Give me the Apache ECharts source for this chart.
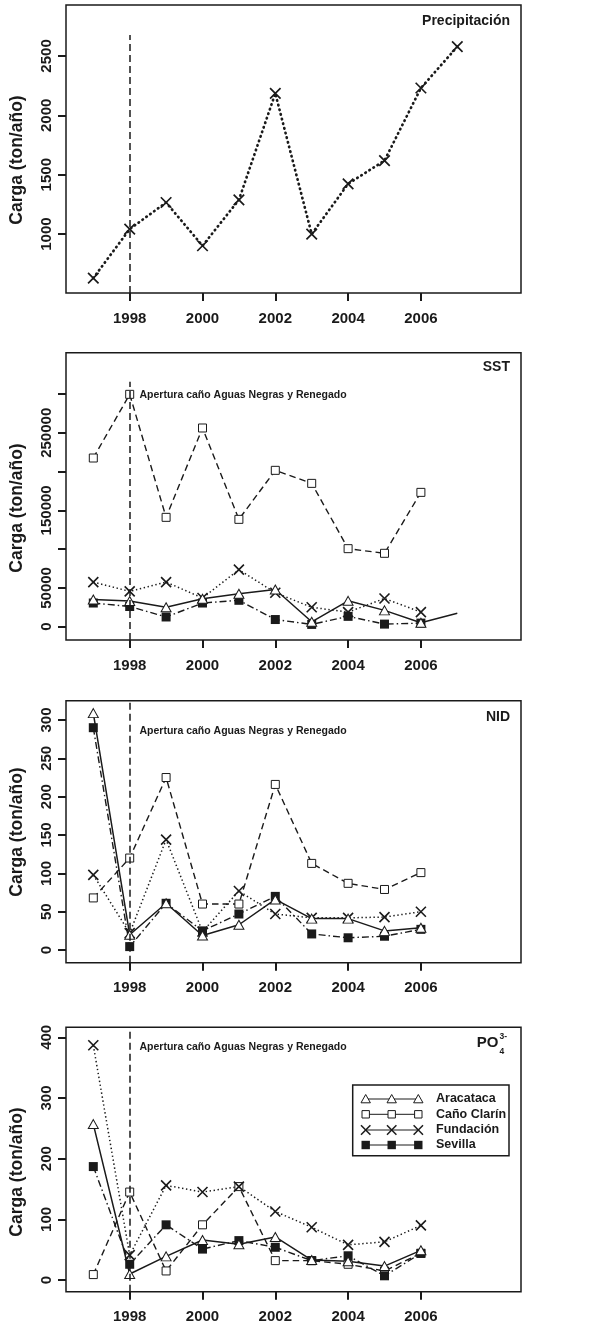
<!DOCTYPE html>
<html>
<head>
<meta charset="utf-8">
<style>
html,body{margin:0;padding:0;background:#fff;}
#chart{width:592px;height:1328px;}
</style>
<script src="https://cdn.jsdelivr.net/npm/echarts@6/dist/echarts.min.js"></script>
</head>
<body>
<div id="chart"></div>
<script>
// ---------- data ----------
const years = [1997, 1998, 1999, 2000, 2001, 2002, 2003, 2004, 2005, 2006, 2007];
const xTicks = [1998, 2000, 2002, 2004, 2006];

const precipitacion = [630, 1042, 1266, 902, 1288, 2185, 1000, 1423, 1619, 2230, 2578];

const sstAracataca  = [35000, 33000, 25000, 36000, 42500, 48000, 6300, 33300, 21000, 5000, 17200];
const sstCanoClarin = [217500, 299600, 141000, 256200, 138400, 201600, 184800, 100600, 94600, 173200];
const sstFundacion  = [57500, 45500, 57500, 37000, 73500, 43800, 25000, 18800, 36300, 18800];
const sstSevilla    = [30500, 26000, 12500, 30500, 34000, 9200, 2900, 13300, 3300, 4600];

const nidAracataca  = [309, 20, 61, 19, 33, 66, 41, 41, 25, 29];
const nidCanoClarin = [68, 120, 225, 60, 60, 216, 113, 87, 79, 101];
const nidFundacion  = [98, 22, 144, 24, 77, 47, 42, 42, 43, 50];
const nidSevilla    = [290, 4.5, 61, 25, 47, 70, 21, 16, 18, 27];

const poAracataca   = [257, 10, 39, 66, 59, 71, 33, 31, 23, 49];
const poCanoClarin  = [9, 145, 15, 91, 154, 32, 32, 26, 15, 44];
const poFundacion   = [387, 41, 156, 145, 154, 113, 87, 58, 63, 90];
const poSevilla     = [187, 26, 91, 51, 65, 54, 32, 40, 7, 44];

const precipYTicks = [1000, 1500, 2000, 2500];
const sstYTicks    = [0, 50000, 100000, 150000, 200000, 250000, 300000];
const sstYLabels   = [0, 50000, 150000, 250000];
const nidYTicks    = [0, 50, 100, 150, 200, 250, 300];
const poYTicks     = [0, 100, 200, 300, 400];

const stationNames = ['Aracataca', 'Caño Clarín', 'Fundación', 'Sevilla'];
const panelTitles  = ['Precipitación', 'SST', 'NID'];
const yTitle = 'Carga (ton/año)';
const annotation = 'Apertura caño Aguas Negras y Renegado';
const eventYear = 1998;
const eventLineTops = [2677, 315900, null, null];

// ---------- styling ----------
const FONT = '"Liberation Sans", Arial, Helvetica, sans-serif';
const INK = '#1a1a1a';
const XPATH = 'path://M0,0L10,10M10,0L0,10';

const grids = [
  {left: 66, top: 5, width: 455, height: 288},
  {left: 66, top: 352.7, width: 455, height: 287.3},
  {left: 66, top: 700.7, width: 455, height: 262},
  {left: 66, top: 1027.3, width: 455, height: 264.4}
];
const yRanges = [[504, 2929], [-17190, 353300], [-16.5, 325.2], [-19.2, 416.5]];
const yTickSets = [precipYTicks, sstYTicks, nidYTicks, poYTicks];
const yLabelSets = [precipYTicks, sstYLabels, nidYTicks, poYTicks];

const styles = {
  Aracataca: {
    symbol: 'triangle', symbolSize: [10, 9],
    itemStyle: {color: '#fff', borderColor: INK, borderWidth: 1},
    lineStyle: {color: INK, width: 1.5, type: 'solid'}
  },
  'Caño Clarín': {
    symbol: 'rect', symbolSize: 8,
    itemStyle: {color: '#fff', borderColor: INK, borderWidth: 1},
    lineStyle: {color: INK, width: 1.4, type: [6.5, 4]}
  },
  'Fundación': {
    symbol: XPATH, symbolSize: 10,
    itemStyle: {color: 'none', borderColor: INK, borderWidth: 1.6},
    lineStyle: {color: INK, width: 1.5, type: [1.4, 2.6]}
  },
  Sevilla: {
    symbol: 'rect', symbolSize: 9,
    itemStyle: {color: INK, borderColor: INK, borderWidth: 0},
    lineStyle: {color: INK, width: 1.4, type: [7, 3, 1.5, 3]}
  }
};

function series(name, gi, values, extra) {
  const st = styles[name];
  return Object.assign({
    type: 'line', name: name, xAxisIndex: gi, yAxisIndex: gi,
    data: values.map((v, i) => [years[i], v]),
    symbol: st.symbol, symbolSize: st.symbolSize,
    itemStyle: st.itemStyle, lineStyle: st.lineStyle,
    showAllSymbol: true, animation: false, silent: true
  }, extra || {});
}

function eventLine(gi) {
  const top = eventLineTops[gi];
  const d = top === null ? [{xAxis: eventYear}]
    : [[{coord: [eventYear, yRanges[gi][0]]}, {coord: [eventYear, top]}]];
  return {
    silent: true, symbol: 'none', animation: false,
    label: {show: false},
    lineStyle: {color: INK, width: 1.5, type: [7, 4]},
    data: d
  };
}

const allSeries = [];
// Panel 1: precipitation
allSeries.push({
  type: 'line', name: 'Precipitación', xAxisIndex: 0, yAxisIndex: 0,
  data: precipitacion.map((v, i) => [years[i], v]),
  symbol: XPATH, symbolSize: 10.5,
  itemStyle: {color: 'none', borderColor: INK, borderWidth: 1.7},
  lineStyle: {color: INK, width: 2.7, type: [0.5, 4.3], cap: 'round'},
  showAllSymbol: true, animation: false, silent: true,
  markLine: eventLine(0)
});
// Panel 2: SST (Aracataca line continues to 2007 without a marker)
const sstAraData = sstAracataca.map((v, i) => i === 10 ? {value: [years[i], v], symbol: 'none'} : [years[i], v]);
allSeries.push(series('Caño Clarín', 1, sstCanoClarin, {markLine: eventLine(1)}));
allSeries.push(series('Fundación', 1, sstFundacion));
allSeries.push(series('Sevilla', 1, sstSevilla));
allSeries.push(series('Aracataca', 1, sstAracataca, {data: sstAraData}));
// Panel 3: NID
allSeries.push(series('Caño Clarín', 2, nidCanoClarin, {markLine: eventLine(2)}));
allSeries.push(series('Fundación', 2, nidFundacion));
allSeries.push(series('Sevilla', 2, nidSevilla));
allSeries.push(series('Aracataca', 2, nidAracataca));
// Panel 4: PO4
allSeries.push(series('Caño Clarín', 3, poCanoClarin, {markLine: eventLine(3)}));
allSeries.push(series('Fundación', 3, poFundacion));
allSeries.push(series('Sevilla', 3, poSevilla));
allSeries.push(series('Aracataca', 3, poAracataca));

const xAxes = grids.map((g, i) => ({
  type: 'value', gridIndex: i, min: 1996.25, max: 2008.75, position: 'bottom',
  axisLine: {show: false, onZero: false},
  splitLine: {show: false},
  axisTick: {show: true, customValues: xTicks, length: 8, lineStyle: {color: INK, width: 2}},
  axisLabel: {customValues: xTicks, margin: 18, color: INK, fontFamily: FONT, fontWeight: 'bold', fontSize: 15,
              formatter: v => String(v)}
}));
const yAxes = grids.map((g, i) => ({
  type: 'value', gridIndex: i, min: yRanges[i][0], max: yRanges[i][1], position: 'left',
  axisLine: {show: false, onZero: false},
  splitLine: {show: false},
  axisTick: {show: true, customValues: yTickSets[i], length: 8, lineStyle: {color: INK, width: 2}},
  axisLabel: {customValues: yLabelSets[i], rotate: 90, margin: 12, color: INK, fontFamily: FONT,
              fontWeight: 'bold', fontSize: 15, formatter: v => String(v)}
}));

// ---------- text & legend graphics ----------
const graphics = [];
const yTitleCenters = [160, 508, 832, 1172];
yTitleCenters.forEach(cy => graphics.push({
  type: 'text', x: 17, y: cy, rotation: Math.PI / 2,
  style: {text: yTitle, fill: INK, font: 'bold 17.5px ' + FONT, align: 'center', verticalAlign: 'middle'}
}));
const titleYs = [20.7, 366.7, 717.3];
panelTitles.forEach((t, i) => graphics.push({
  type: 'text', x: 510, y: titleYs[i],
  style: {text: t, fill: INK, font: 'bold 14px ' + FONT, align: 'right', verticalAlign: 'middle'}
}));
graphics.push({type: 'text', x: 498.5, y: 1043,
  style: {text: 'PO', fill: INK, font: 'bold 15px ' + FONT, align: 'right', verticalAlign: 'middle'}});
graphics.push({type: 'text', x: 499.5, y: 1036.5,
  style: {text: '3-', fill: INK, font: 'bold 8.5px ' + FONT, align: 'left', verticalAlign: 'middle'}});
graphics.push({type: 'text', x: 499.5, y: 1052,
  style: {text: '4', fill: INK, font: 'bold 8.5px ' + FONT, align: 'left', verticalAlign: 'middle'}});
[395, 730.7, 1047.3].forEach(y => graphics.push({
  type: 'text', x: 139.5, y: y,
  style: {text: annotation, fill: INK, font: 'bold 10.5px ' + FONT, align: 'left', verticalAlign: 'middle'}
}));

// legend box
const LG = {x: 352.7, y: 1085, w: 156.3, h: 70.7};
graphics.push({type: 'rect', shape: {x: LG.x, y: LG.y, width: LG.w, height: LG.h},
  style: {fill: '#fff', stroke: INK, lineWidth: 1.5}});
const rowYs = [1099, 1114.3, 1130, 1145];
const symXs = [365.7, 391.7, 418.3];
function marker(kind, cx, cy) {
  if (kind === 'Aracataca') {
    return {type: 'polygon', shape: {points: [[cx, cy - 4.5], [cx + 4.7, cy + 3.8], [cx - 4.7, cy + 3.8]]},
      style: {fill: '#fff', stroke: INK, lineWidth: 1}};
  }
  if (kind === 'Caño Clarín') {
    return {type: 'rect', shape: {x: cx - 3.7, y: cy - 3.7, width: 7.4, height: 7.4},
      style: {fill: '#fff', stroke: INK, lineWidth: 1}};
  }
  if (kind === 'Fundación') {
    return {type: 'group', children: [
      {type: 'line', shape: {x1: cx - 4.7, y1: cy - 4.7, x2: cx + 4.7, y2: cy + 4.7}, style: {stroke: INK, lineWidth: 1.5}},
      {type: 'line', shape: {x1: cx + 4.7, y1: cy - 4.7, x2: cx - 4.7, y2: cy + 4.7}, style: {stroke: INK, lineWidth: 1.5}}
    ]};
  }
  return {type: 'rect', shape: {x: cx - 4.2, y: cy - 4.2, width: 8.4, height: 8.4}, style: {fill: INK}};
}
stationNames.forEach((n, i) => {
  const cy = rowYs[i];
  graphics.push({type: 'line', shape: {x1: symXs[0], y1: cy, x2: symXs[2], y2: cy}, style: {stroke: INK, lineWidth: 1}});
  symXs.forEach(cx => graphics.push(marker(n, cx, cy)));
  graphics.push({type: 'text', x: 436, y: cy,
    style: {text: n, fill: INK, font: 'bold 12.5px ' + FONT, align: 'left', verticalAlign: 'middle'}});
});

const chart = echarts.init(document.getElementById('chart'), null, {renderer: 'canvas'});
chart.setOption({
  backgroundColor: '#fff',
  animation: false,
  grid: grids.map(g => Object.assign({show: true, borderColor: INK, borderWidth: 1.5, backgroundColor: 'transparent', containLabel: false}, g)),
  xAxis: xAxes,
  yAxis: yAxes,
  series: allSeries,
  graphic: graphics
});
</script>
</body>
</html>
